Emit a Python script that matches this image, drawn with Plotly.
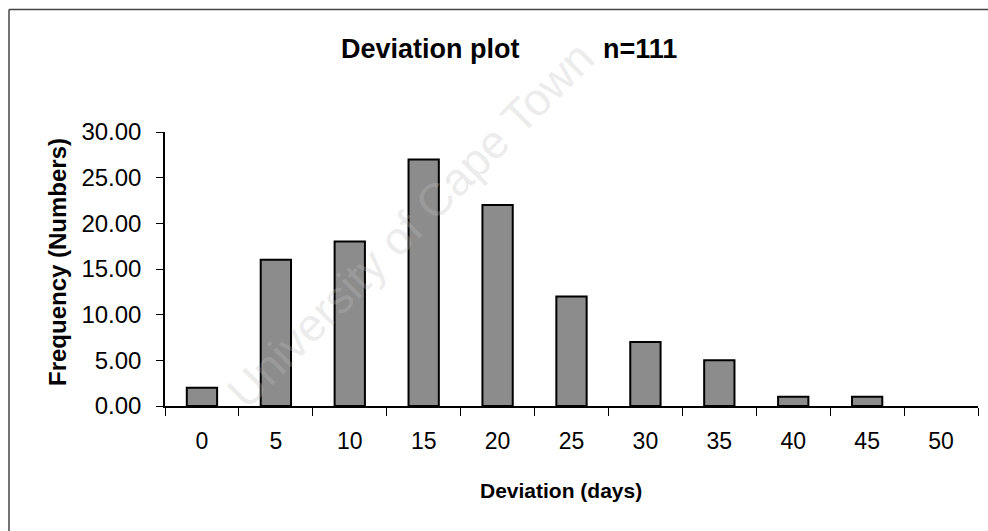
import plotly.graph_objects as go

categories = ["0", "5", "10", "15", "20", "25", "30", "35", "40", "45", "50"]
frequency = [2, 16, 18, 27, 22, 12, 7, 5, 1, 1, 0]
y_ticks = [0, 5, 10, 15, 20, 25, 30]

FONT = "Liberation Sans, Arial, sans-serif"

fig = go.Figure()
fig.add_trace(go.Bar(
    x=categories, y=frequency,
    marker=dict(color="#8c8c8c",
                line=dict(color="black", width=[2 if v > 0 else 0 for v in frequency])),
    width=0.41,
))

L, R, T, B = 165, 978, 132, 406
W, H = 988, 531
px = lambda x: (x - L) / (R - L)
py = lambda y: (B - y) / (B - T)

fig.update_layout(
    width=W, height=H,
    margin=dict(l=L, r=W - R, t=T, b=H - B, pad=0),
    paper_bgcolor="white", plot_bgcolor="white",
    showlegend=False,
    font=dict(family=FONT, color="black"),
)
fig.update_xaxes(
    type="category", tickson="boundaries", range=[-0.5, 10.5],
    showline=True, linecolor="black", linewidth=1.5,
    ticks="outside", ticklen=8, tickcolor="black", tickwidth=1.2,
    tickfont=dict(size=23, family=FONT), showgrid=False,
    ticklabelstandoff=14,
)
fig.update_yaxes(
    range=[0, 30], tickvals=y_ticks, tickformat=".2f",
    showline=True, linecolor="black", linewidth=1.5,
    ticks="outside", ticklen=7, tickcolor="black", tickwidth=1.2,
    tickfont=dict(size=24, family=FONT), showgrid=False, zeroline=False,
    ticklabelstandoff=10,
)

# axis titles
fig.add_annotation(
    text="<b>Deviation (days)</b>", xref="paper", yref="paper",
    x=px(561), y=py(490), showarrow=False, font=dict(size=21, family=FONT),
    xanchor="center", yanchor="middle",
)
fig.add_annotation(
    text="<b>Frequency (Numbers)</b>", xref="paper", yref="paper",
    x=px(57), y=py(262), showarrow=False, textangle=-90,
    font=dict(size=24, family=FONT), xanchor="center", yanchor="middle",
)
# title
fig.add_annotation(
    text="<b>Deviation plot</b>", xref="paper", yref="paper",
    x=px(430), y=py(49), showarrow=False, font=dict(size=27, family=FONT),
    xanchor="center", yanchor="middle",
)
fig.add_annotation(
    text="<b>n=111</b>", xref="paper", yref="paper",
    x=px(640), y=py(49), showarrow=False, font=dict(size=27, family=FONT),
    xanchor="center", yanchor="middle",
)
# faint watermark
fig.add_annotation(
    text="University of Cape Town", xref="paper", yref="paper",
    x=px(410), y=py(225), showarrow=False, textangle=-45,
    font=dict(size=46, family=FONT, color="rgba(190,190,190,0.30)"),
    xanchor="center", yanchor="middle",
)
# outer frame
fig.add_shape(type="line", xref="paper", yref="paper",
              x0=px(9), x1=px(988), y0=py(9.5), y1=py(9.5),
              line=dict(color="#444444", width=1.5))
fig.add_shape(type="line", xref="paper", yref="paper",
              x0=px(9), x1=px(9), y0=py(9.5), y1=py(531),
              line=dict(color="#444444", width=1.5))

fig.write_html("out.html")
